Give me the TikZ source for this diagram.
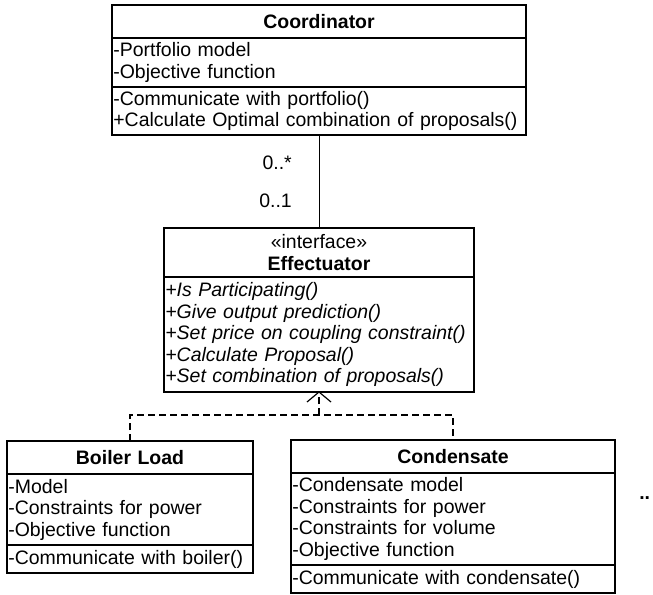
\documentclass[tikz,border=0pt]{standalone}
\usepackage{fontspec}
\setmainfont{Liberation Sans}
\usetikzlibrary{positioning}
\newcommand{\umlfont}{\fontsize{14.6pt}{16.1pt}\selectfont}
\tikzset{
  umlbox/.style={draw, line width=0.9pt, inner xsep=1pt, inner ysep=0pt, outer sep=0pt, font=\umlfont},
  umltitle/.style={umlbox, align=center, font=\umlfont\bfseries},
  umllist/.style={umlbox, align=left},
  realize/.style={line width=1.5pt, dash pattern={on 5.25pt off 3pt}},
}
\begin{document}
\begin{tikzpicture}[x=0.75pt,y=0.75pt,yscale=-1,xscale=1]
        \useasboundingbox (0,0) rectangle (653,595);
        
        %Shape: Class [id:coordinator]
        \node [umltitle, text width=308.5pt, minimum height=24.75pt, anchor=north west] (coordT) at (112,5) {Coordinator};
        \node [umllist, text width=308.5pt, minimum height=36.75pt, below=0pt of coordT] (coordA) {-Portfolio model\\-Objective function};
        \node [umllist, text width=308.5pt, minimum height=36pt, below=0pt of coordA] (coordM) {-Communicate with portfolio()\\+Calculate Optimal combination of proposals()};
        
        %Shape: Interface [id:effectuator]
        \node [umltitle, text width=230.5pt, minimum height=36.75pt, anchor=north west] (effT) at (164,228) {{\mdseries «interface»}\\Effectuator};
        \node [umllist, text width=230.5pt, minimum height=86.25pt, below=0pt of effT, font=\umlfont\itshape] (effM) {+Is Participating()\\+Give output prediction()\\+Set price on coupling constraint()\\+Calculate Proposal()\\+Set combination of proposals()};
        
        %Shape: Class [id:boilerload]
        \node [umltitle, text width=182.5pt, minimum height=24.75pt, anchor=north west] (boilT) at (7,441) {Boiler Load};
        \node [umllist, text width=182.5pt, minimum height=53.25pt, below=0pt of boilT] (boilA) {-Model\\-Constraints for power\\-Objective function};
        \node [umllist, text width=182.5pt, minimum height=21pt, below=0pt of boilA] (boilM) {-Communicate with boiler()};
        
        %Shape: Class [id:condensate]
        \node [umltitle, text width=241pt, minimum height=24.75pt, anchor=north west] (condT) at (291,440) {Condensate};
        \node [umllist, text width=241pt, minimum height=69pt, below=0pt of condT] (condA) {-Condensate model\\-Constraints for power\\-Constraints for volume\\-Objective function};
        \node [umllist, text width=241pt, minimum height=21pt, below=0pt of condA] (condM) {-Communicate with condensate()};
        
        %Straight Lines [id:association]
        \draw [line width=0.75pt] (coordM.south) -- (effT.north);
        %Straight Lines [id:realization]
        \coordinate (join) at (319,415);
        \draw [realize] (boilT.north) |- (join) -| (condT.north);
        \draw [realize] (join) -- (effM.south);
        \draw [line width=0.9pt] (effM.south) ++(-12,10) -- (effM.south) -- ++(12,10);
        
        % Text Node
        \node [font=\umlfont, anchor=base east, inner sep=0pt] (multTop) at (292,170) {0..*};
        % Text Node
        \node [font=\umlfont, anchor=base east, inner sep=0pt] (multBot) at (292,208) {0..1};
        % Text Node
        \node [font=\umlfont\bfseries, anchor=base west, inner sep=0pt] (more) at (639,499) {..};
        
\end{tikzpicture}
\end{document}
